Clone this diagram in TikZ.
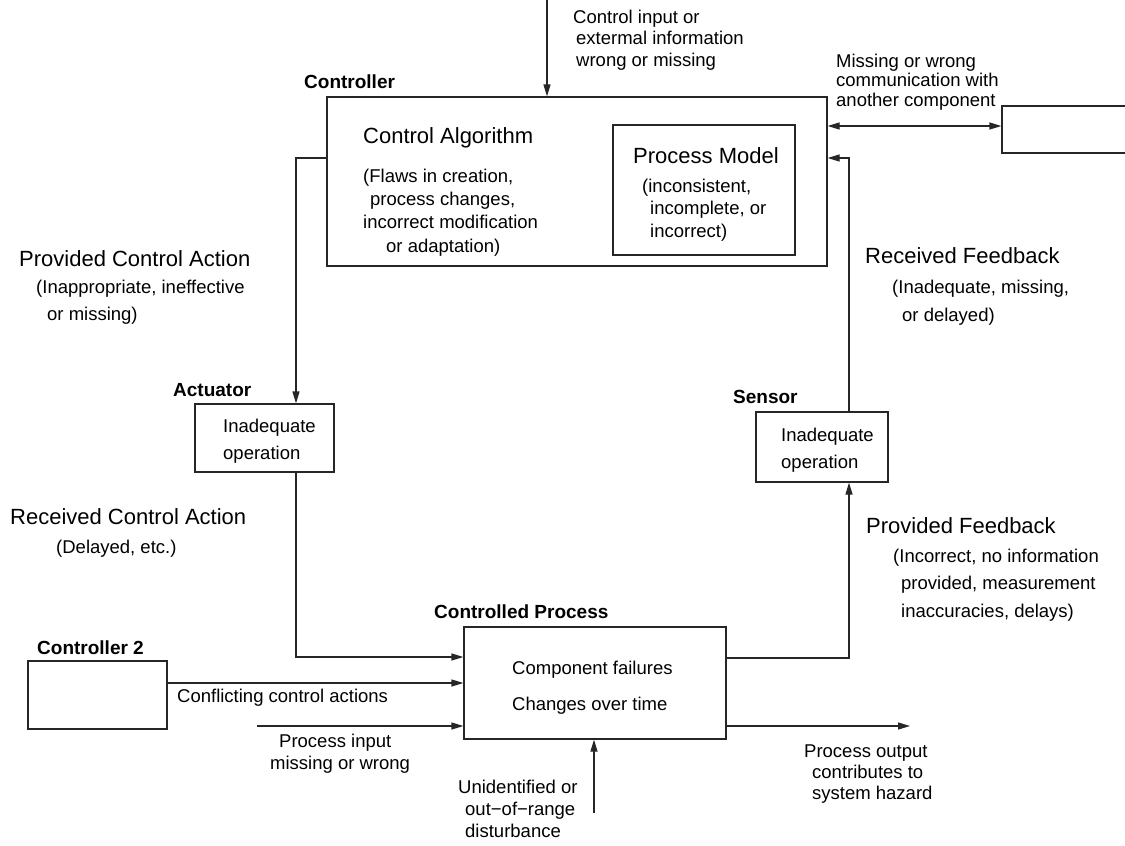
\documentclass[tikz,border=0pt]{standalone}
\usepackage{fontspec}
\setmainfont{Liberation Sans}
\usetikzlibrary{arrows.meta}

\begin{document}
\begin{tikzpicture}[x=1pt,y=-1pt,
  box/.style={draw=black!85, line width=1.2pt, inner sep=0pt},
  conn/.style={draw=black!85, line width=1.2pt, -{Triangle[length=12pt,width=7pt]}},
  both/.style={draw=black!85, line width=1.2pt, {Triangle[length=12pt,width=7pt]}-{Triangle[length=12pt,width=7pt]}},
  big/.style={font=\fontsize{22}{26}\selectfont, inner sep=0pt, anchor=base west},
  % multi-line texts are placed by the baseline of their last line
  txt/.style={font=\fontsize{18.5}{#1}\selectfont, align=left, inner sep=0pt, anchor=base west},
  txt/.default=23,
  lbl/.style={font=\bfseries\fontsize{19}{22}\selectfont, inner sep=0pt, anchor=base west},
]
\useasboundingbox (0,0) rectangle (1125,846);

% boxes
\node[box, minimum width=500pt, minimum height=169pt] (ctrl) at (577,181.5) {};
\node[box, minimum width=182pt, minimum height=130pt] (pm) at (704,190) {};
\node[box, minimum width=139pt, minimum height=68pt] (act) at (264.5,438) {};
\node[box, minimum width=132pt, minimum height=70pt] (sens) at (822,447) {};
\node[box, minimum width=262pt, minimum height=112pt] (proc) at (595,683) {};
\node[box, minimum width=139pt, minimum height=68pt] (ctrl2) at (97.5,695) {};
\node[box, minimum width=140pt, minimum height=47pt] (other) at (1072,129.5) {};

% free ends
\coordinate (cin) at (547,0);
\coordinate (pin) at (257,726);
\coordinate (dist) at (594,813);
\coordinate (pout) at (910,726);

% connectors
\draw[conn] (cin) -- (cin |- ctrl.north);
\draw[conn] (ctrl.west |- 0,158) -| (act.north -| 296,0);
\draw[conn] (act.south -| 296,0) |- (proc.west |- 0,657);
\draw[conn] (ctrl2.east |- 0,683) -- (proc.west |- 0,683);
\draw[conn] (pin) -- (proc.west |- pin);
\draw[conn] (dist) -- (dist |- proc.south);
\draw[conn] (proc.east |- pout) -- (pout);
\draw[conn] (proc.east |- 0,658) -| (sens.south -| 849,0);
\draw[conn] (sens.north -| 849,0) |- (ctrl.east |- 0,158);
\draw[both] (ctrl.east |- 0,126) -- (other.west |- 0,126);

% component labels
\node[lbl] (lctrl) at (304,88) {Controller};
\node[lbl] (lact) at (173,396) {Actuator};
\node[lbl] (lsens) at (733,403) {Sensor};
\node[lbl] (lctrl2) at (37,654) {Controller 2};
\node[lbl] (lproc) at (434,618) {Controlled Process};

% text inside the controller
\node[big] (calg) at (363,143) {Control Algorithm};
\node[txt=23.3] (calgx) at (363,252) {(Flaws in creation,\\\hspace{7pt}process changes,\\incorrect modification\\\hspace{23pt}or adaptation)};
\node[big] (pmt) at (633,163) {Process Model};
\node[txt=22.5] (pmx) at (642,237) {(inconsistent,\\\hspace{8pt}incomplete, or\\\hspace{8pt}incorrect)};

% text inside actuator, sensor and process
\node[txt=27] (actx) at (223,459) {Inadequate\\operation};
\node[txt=27] (sensx) at (781,468) {Inadequate\\operation};
\node[txt=36] (procx) at (512,710) {Component failures\\Changes over time};

% connector labels
\node[txt=21.5] (tin) at (573,66) {Control input or\\\hspace{3pt}extermal information\\\hspace{3pt}wrong or missing};
\node[txt=19.5] (tcom) at (836,106) {Missing or wrong\\communication with\\another component};
\node[big] (tpca) at (19,266) {Provided Control Action};
\node[txt=27] (tpcax) at (36,320) {(Inappropriate, ineffective\\\hspace{11pt}or missing)};
\node[big] (trf) at (865,263) {Received Feedback};
\node[txt=28] (trfx) at (892,321) {(Inadequate, missing,\\\hspace{10pt}or delayed)};
\node[big] (trca) at (10,524) {Received Control Action};
\node[txt] (trcax) at (56,553) {(Delayed, etc.)};
\node[big] (tpf) at (866,533) {Provided Feedback};
\node[txt=27.5] (tpfx) at (893,617) {(Incorrect, no information\\\hspace{8pt}provided, measurement\\\hspace{8pt}inaccuracies, delays)};
\node[txt] (tconf) at (177,702) {Conflicting control actions};
\node[txt=22] (tpin) at (270,769) {\hspace{9pt}Process input\\missing or wrong};
\node[txt=22] (tdist) at (458,837) {Unidentified or\\\hspace{7pt}out−of−range\\\hspace{7pt}disturbance};
\node[txt=21] (tout) at (804,799) {Process output\\\hspace{8pt}contributes to\\\hspace{8pt}system hazard};
\end{tikzpicture}
\end{document}
